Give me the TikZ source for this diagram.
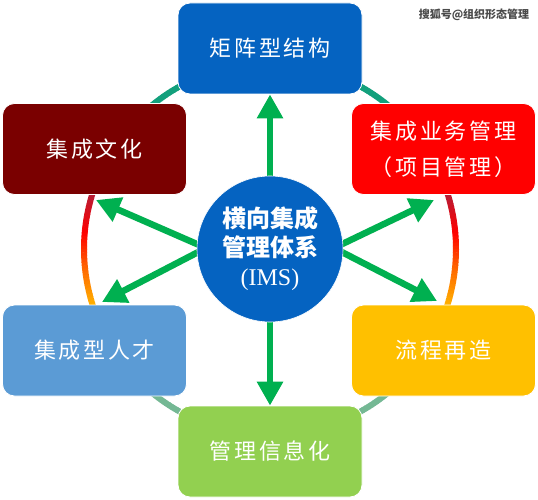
\documentclass[tikz,border=0pt]{standalone}
\usepackage{fontspec}
\setmainfont{Liberation Serif}
\newfontfamily\cjk[LetterSpace=12]{Noto Sans CJK SC}
\newfontfamily\cjkc{Noto Sans CJK SC}
\usetikzlibrary{arrows.meta,calc}
\definecolor{bluemain}{HTML}{0563C1}
\definecolor{darkred}{HTML}{7A0000}
\definecolor{brightred}{HTML}{FF0000}
\definecolor{lightblue}{HTML}{5B9BD5}
\definecolor{amber}{HTML}{FFC000}
\definecolor{lightgreen}{HTML}{92D050}
\definecolor{arrgreen}{HTML}{00B050}
\definecolor{stubteal}{HTML}{12A07C}
\definecolor{stublight}{HTML}{74B894}
\definecolor{wmgray}{HTML}{4A4A4A}
\begin{document}
\begin{tikzpicture}[x=1pt,y=-1pt,
  box/.style={draw=white, line width=0.8pt, rounded corners=12pt,
    minimum width=184pt, minimum height=91pt, text=white,
    font=\cjk\fontsize{22}{36}\selectfont, align=center, inner sep=0pt},
  arr/.style={draw=arrgreen, line width=6.5pt, -{Triangle[length=24pt,width=25pt]}},
  ring/.style={line width=6pt}]
\useasboundingbox (0,0) rectangle (538,500);
\fill[white] (0,0) rectangle (538,500);

\coordinate (cc) at (270,249);

% ring segments (behind boxes)
\foreach \a in {150,151,...,209}{
  \pgfmathsetmacro\t{min(max((\a-162)/36,0),1)}
  \pgfmathsetmacro\R{\t<0.35 ? (0.70+0.30*\t/0.35) : 1}
  \pgfmathsetmacro\G{\t<0.35 ? (0.12-0.12*\t/0.35) : (\t<0.65 ? 0.40*(\t-0.35)/0.30 : 0.40+0.32*(\t-0.65)/0.35)}
  \pgfmathsetmacro\B{\t<0.35 ? (0.22-0.22*\t/0.35) : 0}
  \definecolor{seg}{rgb}{\R,\G,\B}
  \draw[ring,seg] ($(cc)+(\a:186pt)$) -- ($(cc)+(\a+1.15:186pt)$);
}
\foreach \a in {30,29,...,-30}{
  \pgfmathsetmacro\t{min(max((18-\a)/36,0),1)}
  \pgfmathsetmacro\R{\t<0.35 ? (0.70+0.30*\t/0.35) : 1}
  \pgfmathsetmacro\G{\t<0.35 ? (0.12-0.12*\t/0.35) : (\t<0.65 ? 0.40*(\t-0.35)/0.30 : 0.40+0.32*(\t-0.65)/0.35)}
  \pgfmathsetmacro\B{\t<0.35 ? (0.22-0.22*\t/0.35) : 0}
  \definecolor{seg}{rgb}{\R,\G,\B}
  \draw[ring,seg] ($(cc)+(\a:186pt)$) -- ($(cc)+(\a-1.15:186pt)$);
}
\foreach \a in {110,...,145}{
  \draw[ring,stubteal] ($(cc)+(\a:186pt)$) -- ($(cc)+(\a+1.15:186pt)$);}
\foreach \a in {35,...,70}{
  \draw[ring,stubteal] ($(cc)+(\a:186pt)$) -- ($(cc)+(\a+1.15:186pt)$);}
\foreach \a in {-146,...,-111}{
  \draw[ring,stublight] ($(cc)+(\a:186pt)$) -- ($(cc)+(\a+1.15:186pt)$);}
\foreach \a in {-71,...,-36}{
  \draw[ring,stublight] ($(cc)+(\a:186pt)$) -- ($(cc)+(\a+1.15:186pt)$);}

% boxes
\node[box, fill=bluemain]   (top) at (270,48.5)  {矩阵型结构};
\node[box, fill=darkred]    (tl)  at (94.5,149)  {集成文化};
\node[box, fill=brightred]  (tr)  at (443.5,149) {集成业务管理\\（项目管理）};
\node[box, fill=lightblue]  (bl)  at (94.5,350.5) {集成型人才};
\node[box, fill=amber]      (br)  at (443.5,350.5) {流程再造};
\node[box, fill=lightgreen] (bot) at (270,451.5) {管理信息化};

% arrows
\coordinate (ls) at (206,248);
\coordinate (rs) at (334,248);
\coordinate (tlTip) at (96,200);
\coordinate (blTip) at (102,302);
\coordinate (trTip) at (434,200);
\coordinate (brTip) at (437,301);
\draw[arr] (cc) -- (top.south);
\draw[arr] (cc) -- (bot.north);
\draw[arr] (ls) -- (tlTip);
\draw[arr] (ls) -- (blTip);
\draw[arr] (rs) -- (trTip);
\draw[arr] (rs) -- (brTip);

% center circle
\node[circle, fill=bluemain, draw=white, line width=0.6pt, minimum size=146pt, inner sep=0pt,
  text=white, align=center, font=\fontsize{24}{29}\selectfont] (c) at (cc)
  {{\cjkc\bfseries 横向集成}\\{\cjkc\bfseries 管理体系}\\(IMS)};

% watermark
\node[text=wmgray, font=\cjkc\bfseries\fontsize{11}{12}\selectfont, inner sep=0pt] (wm) at (474,15) {搜狐号@组织形态管理};
\end{tikzpicture}
\end{document}
